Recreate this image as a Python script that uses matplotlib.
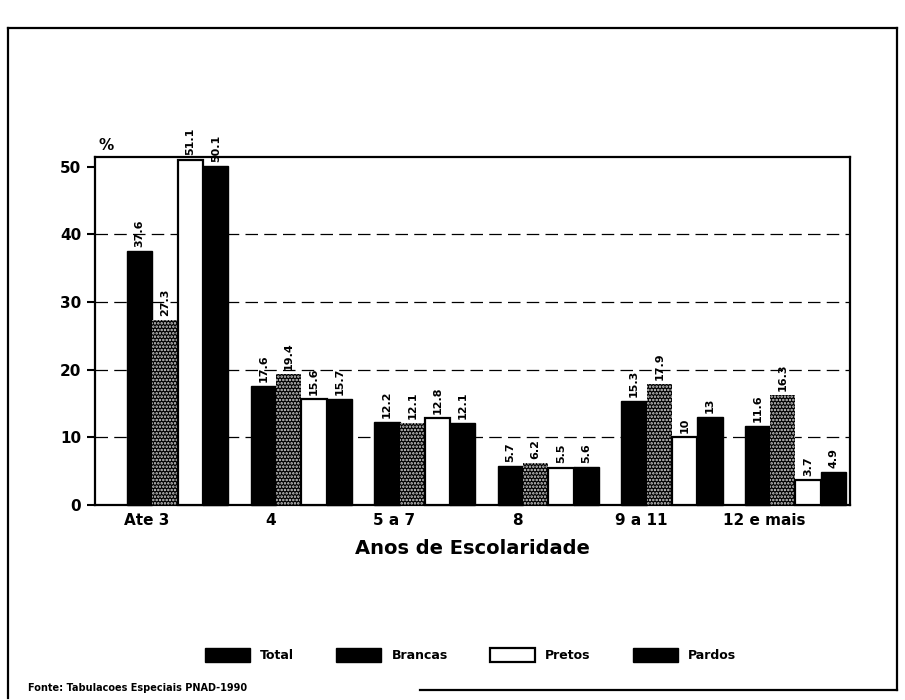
import numpy as np
import matplotlib
matplotlib.use('Agg')
import matplotlib.pyplot as plt
from matplotlib.patches import Patch
from matplotlib.lines import Line2D

categories = ['Ate 3', '4', '5 a 7', '8', '9 a 11', '12 e mais']
series_names = ['Total', 'Brancas', 'Pretos', 'Pardos']
total = [37.6, 17.6, 12.2, 5.7, 15.3, 11.6]
brancas = [27.3, 19.4, 12.1, 6.2, 17.9, 16.3]
pretos = [51.1, 15.6, 12.8, 5.5, 10, 3.7]
pardos = [50.1, 15.7, 12.1, 5.6, 13, 4.9]
yticks = [0, 10, 20, 30, 40, 50]


def fmt(v):
    return f'{v:g}'


def main():
    plt.rcParams['font.family'] = ['DejaVu Sans']
    plt.rcParams['font.weight'] = 'bold'
    plt.rcParams['hatch.linewidth'] = 1.2

    fig = plt.figure(figsize=(9.05, 7.0), dpi=100)
    ax = fig.add_axes([0.105, 0.279, 0.834, 0.497])

    x = np.arange(len(categories))
    w = 0.205
    offsets = [-1.5 * w, -0.5 * w, 0.5 * w, 1.5 * w]
    styles = [
        dict(color='black', edgecolor='black'),
        dict(facecolor='black', edgecolor='#d8d8d8', hatch='.....', linewidth=0),
        dict(facecolor='white', edgecolor='black', linewidth=1.6),
        dict(color='black', edgecolor='black'),
    ]
    data = [total, brancas, pretos, pardos]
    for vals, off, st in zip(data, offsets, styles):
        ax.bar(x + off, vals, w, zorder=3, clip_on=False, **st)
        for xi, v in zip(x + off, vals):
            ax.text(xi, v + 0.6, fmt(v), rotation=90, ha='center', va='bottom',
                    fontsize=8, fontweight='bold', zorder=4)

    ax.set_xlim(-0.67, 5.44)
    ax.set_ylim(0, 51.5)
    ax.set_yticks(yticks)
    ax.set_yticklabels([str(t) for t in yticks], fontsize=11, fontweight='bold')
    ax.set_xticks(x - 0.25)
    ax.set_xticklabels(categories, fontsize=11, fontweight='bold')
    ax.tick_params(axis='x', length=0, pad=6)
    ax.tick_params(axis='y', length=6, width=1.5, direction='out', pad=4)
    for t in yticks[1:5]:
        ax.axhline(t, color='black', lw=0.9, ls=(0, (10, 5)), zorder=1)
    for s in ax.spines.values():
        s.set_linewidth(1.6)
    ax.set_xlabel('Anos de Escolaridade', fontsize=14, fontweight='bold', labelpad=8)
    ax.text(0.005, 1.01, '%', transform=ax.transAxes, fontsize=11,
            fontweight='bold', ha='left', va='bottom')

    handles = [
        Patch(facecolor='black', edgecolor='black'),
        Patch(facecolor='black', edgecolor='black'),
        Patch(facecolor='white', edgecolor='black', linewidth=1.6),
        Patch(facecolor='black', edgecolor='black'),
    ]
    fig.legend(handles, series_names, loc='center',
               bbox_to_anchor=(0.52, 1 - 655 / 700),
               ncol=4, frameon=False, handlelength=3.6, handleheight=1.4,
               columnspacing=3.4, handletextpad=0.8,
               prop={'weight': 'bold', 'size': 9})

    fig.text(0.031, 1 - 688 / 700, 'Fonte: Tabulacoes Especiais PNAD-1990',
             fontsize=7, fontweight='bold', va='center', ha='left')

    # outer frame of the scanned page
    lx0, lx1 = 8 / 905, 897 / 905
    ly0, ly1 = 1 - 698 / 700, 1 - 28 / 700
    fig.add_artist(Line2D([lx0, lx1], [ly1, ly1], color='black', lw=1.6))
    fig.add_artist(Line2D([lx0, lx0], [ly0, ly1], color='black', lw=1.6))
    fig.add_artist(Line2D([lx1, lx1], [1 - 690 / 700, ly1], color='black', lw=1.6))
    fig.add_artist(Line2D([420 / 905, lx1], [1 - 690 / 700, 1 - 690 / 700], color='black', lw=1.6))

    fig.savefig('out.png', dpi=100)


if __name__ == '__main__':
    main()
